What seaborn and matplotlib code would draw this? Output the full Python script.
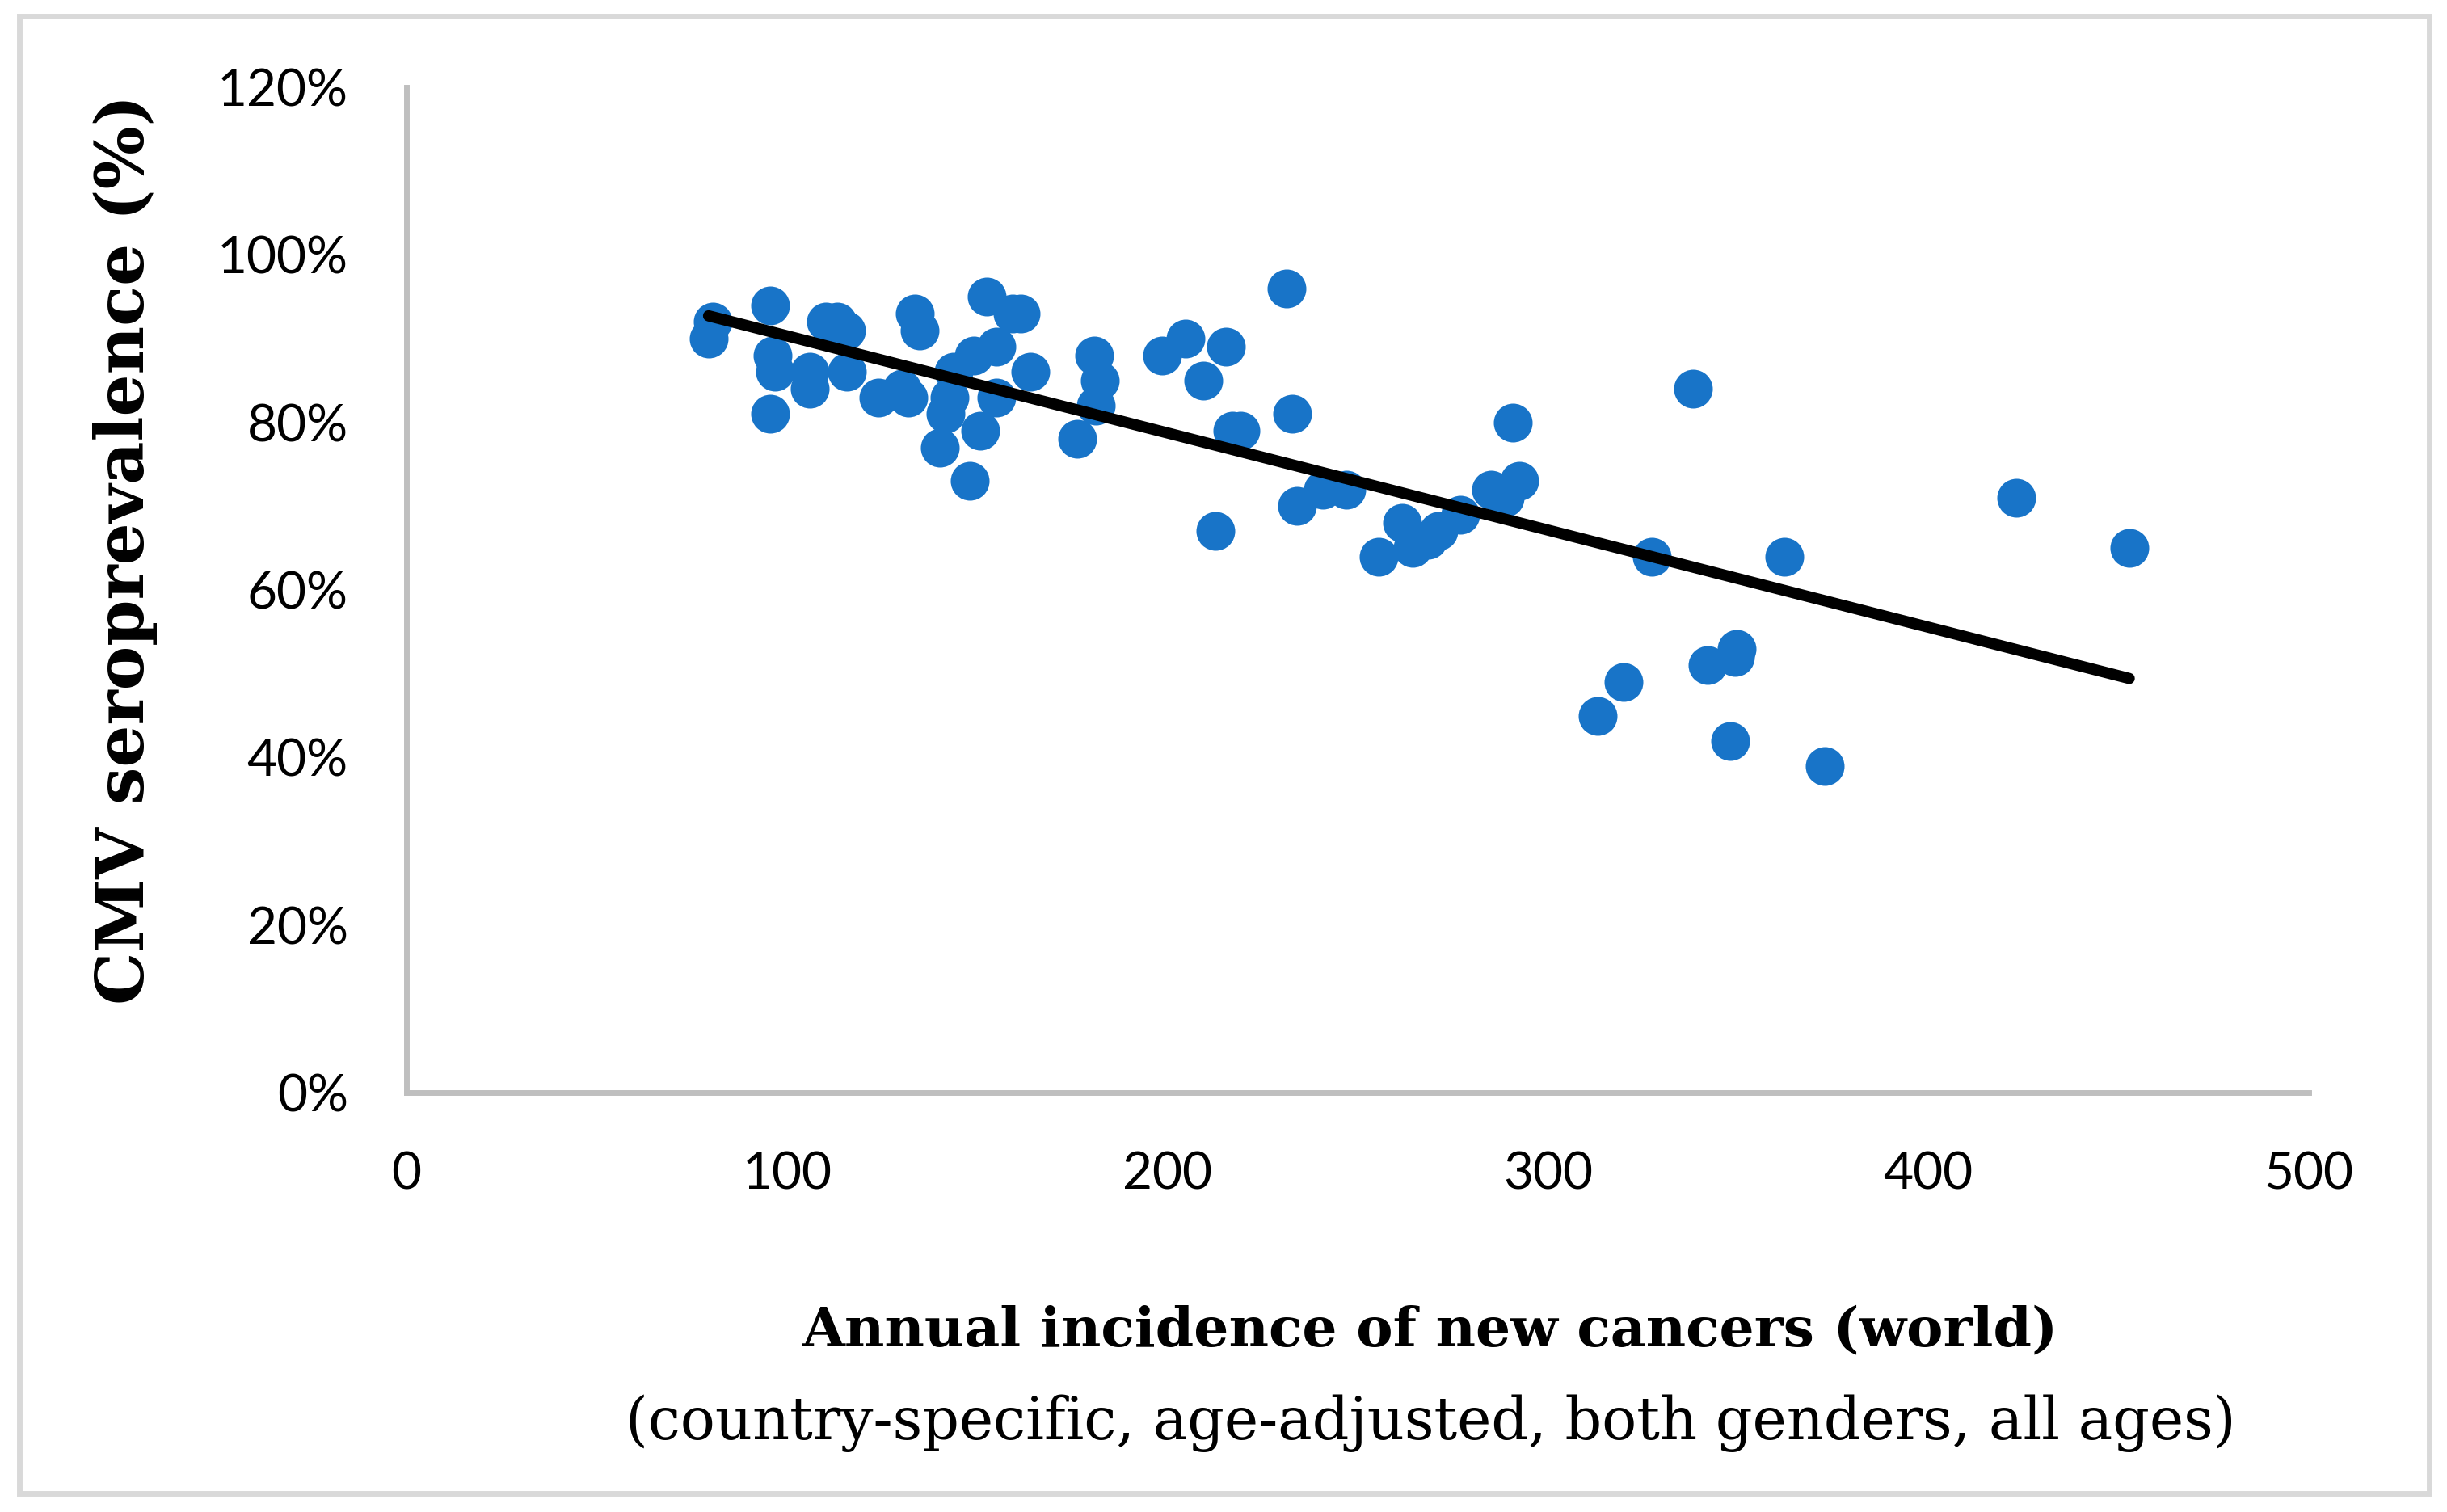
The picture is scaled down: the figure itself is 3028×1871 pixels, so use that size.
import numpy as np
import pandas as pd
import seaborn as sns
import matplotlib.pyplot as plt
from matplotlib.patches import Rectangle
from matplotlib.ticker import FuncFormatter

# annual incidence of new cancers (per country) and CMV seroprevalence (%)
incidence = [79.4, 80.4, 95.6, 96.2, 96.9, 95.6, 105.9, 105.9, 110.3, 113.3,
             115.6, 115.8, 124.0, 130.3, 131.8, 133.5, 134.9, 140.1, 141.7, 142.7,
             143.8, 148.0, 149.1, 150.9, 152.6, 155.1, 155.1, 159.4, 161.4, 164.0,
             176.2, 180.8, 182.2, 181.2, 198.7, 204.8, 209.4, 215.3, 212.7, 217.0,
             219.1, 231.4, 232.9, 234.1, 240.8, 247.0, 255.5, 261.7, 264.5, 268.4,
             271.2, 277.0, 285.0, 288.6, 290.7, 292.5, 313.1, 319.8, 327.4, 338.2,
             341.9, 348.0, 349.2, 349.6, 362.1, 372.7, 423.1, 452.8]
seroprev = [90, 92, 94, 88, 86, 81, 86, 84, 92, 92,
            91, 86, 83, 84, 83, 93, 91, 77, 81, 83,
            86, 73, 88, 79, 95, 89, 83, 93, 93, 86,
            78, 88, 85, 82, 88, 90, 85, 89, 67, 79,
            79, 96, 81, 70, 72, 72, 64, 68, 65, 66,
            67, 69, 72, 71, 80, 73, 45, 49, 64, 84,
            51, 42, 52, 53, 64, 39, 71, 65]

x_ticks = [0, 100, 200, 300, 400, 500]
y_ticks = [0, 20, 40, 60, 80, 100, 120]

df = pd.DataFrame({'incidence': incidence, 'seroprev': seroprev})

# linear trend line over the data range
slope, intercept = np.polyfit(df['incidence'], df['seroprev'], 1)
trend_x = np.array([df['incidence'].min(), df['incidence'].max()])
trend_y = slope * trend_x + intercept

W, H = 3028, 1871
fig = plt.figure(figsize=(W / 100, H / 100), dpi=100)
ax = fig.add_axes([503 / W, 1 - 1352 / H, (2857 - 503) / W, (1352 - 108) / H])

sns.scatterplot(data=df, x='incidence', y='seroprev', ax=ax, color='#1874C8',
                s=1195, linewidth=0, zorder=3)
ax.plot(trend_x, trend_y, color='black', lw=10, solid_capstyle='round', zorder=4)

ax.set_xlim(0, 500)
ax.set_ylim(0, 120)
ax.set_xticks(x_ticks)
ax.set_yticks(y_ticks)
ax.yaxis.set_major_formatter(FuncFormatter(lambda v, p: '{:.0f}%'.format(v)))
ax.tick_params(length=0, labelsize=46, pad=52)
for lab in ax.get_xticklabels() + ax.get_yticklabels():
    lab.set_fontfamily('Lato')
ax.set_xlabel('')
ax.set_ylabel('')

for side in ['top', 'right']:
    ax.spines[side].set_visible(False)
for side in ['left', 'bottom']:
    ax.spines[side].set_color('#bfbfbf')
    ax.spines[side].set_linewidth(5)

fig.text(155 / W, 1 - 680 / H, 'CMV seroprevalence (%)', rotation=90,
         ha='center', va='center', fontsize=59, fontweight='bold',
         family='DejaVu Serif')
fig.text(1770 / W, 1 - 1647 / H, 'Annual incidence of new cancers (world)',
         ha='center', va='center', fontsize=49, fontweight='bold',
         family='DejaVu Serif')
fig.text(1770 / W, 1 - 1761 / H,
         '(country-specific, age-adjusted, both genders, all ages)',
         ha='center', va='center', fontsize=51.5, family='DejaVu Serif')

# light grey chart border
fig.patches.append(Rectangle((24 / W, 1 - 1848 / H), (3006 - 24) / W, (1848 - 20) / H,
                             transform=fig.transFigure, fill=False,
                             edgecolor='#d9d9d9', linewidth=5))

fig.savefig('out.png', dpi=100, facecolor='white')
